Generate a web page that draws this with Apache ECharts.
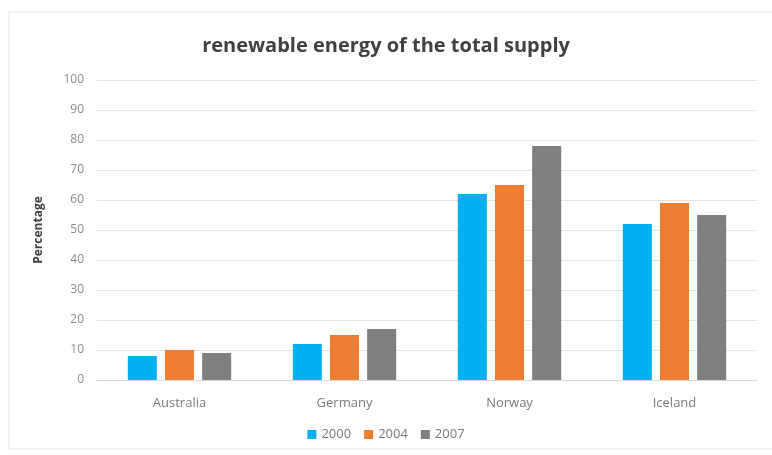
<!DOCTYPE html>
<html><head><meta charset="utf-8">
<script src="https://cdn.jsdelivr.net/npm/echarts@6/dist/echarts.min.js"></script>
<style>html,body{margin:0;padding:0;background:#fff}#c{width:772px;height:455px}</style>
</head><body><div id="c"></div>
<script>
const categories = ['Australia', 'Germany', 'Norway', 'Iceland'];
const seriesNames = ['2000', '2004', '2007'];
const values2000 = [8, 12, 62, 52];
const values2004 = [10, 15, 65, 59];
const values2007 = [9, 17, 78, 55];
const yTicks = {min: 0, max: 100, interval: 10};
const colors = ['#00B0F0', '#ED7D31', '#7F7F7F'];
const font = "'Open Sans', 'Noto Sans', sans-serif";

const chart = echarts.init(document.getElementById('c'), null, {renderer: 'canvas'});
const data = [values2000, values2004, values2007];
chart.setOption({
  animation: false,
  color: colors,
  title: {
    text: 'renewable energy of the total supply',
    left: 'center', top: 31,
    textStyle: {fontFamily: font, fontWeight: 'bold', fontSize: 20, color: '#404040'}
  },
  graphic: [{
    type: 'rect', shape: {x: 9, y: 12, width: 790, height: 437},
    style: {fill: 'none', stroke: '#e6e6e6', lineWidth: 1}, silent: true
  }],
  legend: {
    bottom: 9, left: 'center',
    itemWidth: 9, itemHeight: 9, itemGap: 13,
    icon: 'rect',
    textStyle: {fontFamily: font, fontSize: 13, color: '#7a7a7a'},
    data: seriesNames
  },
  grid: {left: 97, right: 15, top: 80, bottom: 75},
  xAxis: {
    type: 'category', data: categories,
    axisLine: {lineStyle: {color: '#d9d9d9'}},
    axisTick: {show: false},
    axisLabel: {fontFamily: font, fontSize: 13, color: '#7a7a7a', margin: 17}
  },
  yAxis: {
    type: 'value', min: yTicks.min, max: yTicks.max, interval: yTicks.interval,
    name: 'Percentage', nameLocation: 'middle', nameGap: 52, nameRotate: 90,
    nameTextStyle: {fontFamily: font, fontWeight: 'bold', fontSize: 12, color: '#404040'},
    axisLine: {show: false}, axisTick: {show: false},
    axisLabel: {fontFamily: font, fontSize: 12, color: '#8c8c8c', margin: 13},
    splitLine: {lineStyle: {color: '#e3e3e3'}}
  },
  series: seriesNames.map((n, i) => ({
    name: n, type: 'bar', data: data[i],
    barWidth: '17.6%', barGap: '28%'
  }))
});
</script></body></html>
